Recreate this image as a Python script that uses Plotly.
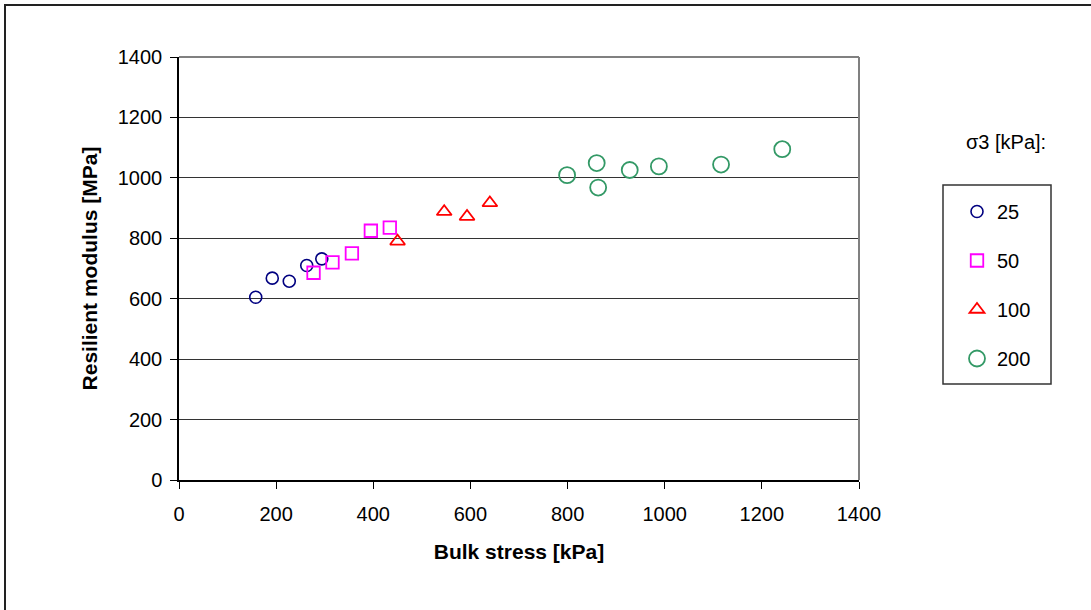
import plotly.graph_objects as go

# Data
bulk_25 = [158, 192, 227, 263, 294]
mr_25 = [605, 668, 658, 710, 732]

bulk_50 = [277, 316, 356, 395, 434]
mr_50 = [686, 720, 750, 825, 835]

bulk_100 = [450, 546, 593, 640]
mr_100 = [790, 888, 872, 917]

bulk_200 = [799, 860, 863, 928, 988, 1116, 1242]
mr_200 = [1009, 1049, 968, 1026, 1038, 1044, 1095]

series_names = ["25", "50", "100", "200"]
x_ticks = [0, 200, 400, 600, 800, 1000, 1200, 1400]
y_ticks = [0, 200, 400, 600, 800, 1000, 1200, 1400]

FONT = "Liberation Sans, Arial, sans-serif"

fig = go.Figure()
specs = [
    (bulk_25, mr_25, series_names[0], "circle-open", "#000080", 12, 1.6),
    (bulk_50, mr_50, series_names[1], "square-open", "#FF00FF", 12.5, 1.8),
    (bulk_100, mr_100, series_names[2], "triangle-up-open", "#FF0000", 13, 1.8),
    (bulk_200, mr_200, series_names[3], "circle-open", "#339966", 16, 1.8),
]
for i, (xs, ys, name, sym, col, sz, lw) in enumerate(specs):
    fig.add_trace(go.Scatter(
        x=xs, y=ys, mode="markers", name=name, legendgroup=f"g{i}",
        marker=dict(symbol=sym, size=sz, color=col, line=dict(color=col, width=lw)),
    ))

L, R, T, B = 179, 859, 57, 480
W, H = 1091, 610
pw, ph = R - L, B - T

def px_x(p):
    return (p - L) / pw

def px_y(p):
    return (B - p) / ph

shapes = [
    # outer chart border (right/bottom fall outside the image)
    dict(type="rect", xref="paper", yref="paper",
         x0=px_x(5), x1=px_x(W + 20), y0=px_y(W), y1=px_y(5),
         line=dict(color="#222222", width=2), fillcolor="rgba(0,0,0,0)", layer="below"),
    # plot area top and right border (grey)
    dict(type="line", xref="paper", yref="paper", x0=0, x1=1, y0=1, y1=1,
         line=dict(color="#808080", width=2)),
    dict(type="line", xref="paper", yref="paper", x0=1, x1=1, y0=0, y1=1,
         line=dict(color="#808080", width=2)),
    # legend box
    dict(type="rect", xref="paper", yref="paper",
         x0=px_x(943), x1=px_x(1051), y0=px_y(384), y1=px_y(185),
         line=dict(color="#333333", width=1.5), fillcolor="rgba(0,0,0,0)"),
]

fig.update_layout(
    width=W, height=H,
    margin=dict(l=L, r=W - R, t=T, b=H - B),
    paper_bgcolor="white", plot_bgcolor="white",
    font=dict(family=FONT, size=20, color="black"),
    showlegend=True,
    legend=dict(
        x=px_x(957), y=px_y(192), xanchor="left", yanchor="top",
        traceorder="grouped", tracegroupgap=20,
        bgcolor="rgba(0,0,0,0)", borderwidth=0,
        font=dict(family=FONT, size=20, color="black"),
    ),
    shapes=shapes,
    annotations=[
        dict(text="σ3 [kPa]:", xref="paper", yref="paper",
             x=px_x(1006), y=px_y(142), xanchor="center", yanchor="middle",
             showarrow=False, font=dict(family=FONT, size=20, color="black")),
    ],
    xaxis=dict(
        range=[0, 1400], tickvals=x_ticks, ticktext=[str(v) for v in x_ticks],
        showgrid=False, zeroline=False,
        showline=True, linecolor="black", linewidth=1.5,
        ticks="outside", ticklen=7, tickcolor="black", tickwidth=1.2,
        ticklabelstandoff=8,
        tickfont=dict(family=FONT, size=20, color="black"),
        title=dict(text="<b>Bulk stress [kPa]</b>", standoff=21,
                   font=dict(family=FONT, size=21, color="black")),
    ),
    yaxis=dict(
        range=[0, 1400], tickvals=y_ticks, ticktext=[str(v) for v in y_ticks],
        showgrid=True, gridcolor="#333333", gridwidth=1,
        zeroline=False,
        showline=True, linecolor="black", linewidth=1.5,
        ticks="outside", ticklen=7, tickcolor="black", tickwidth=1.2,
        ticklabelstandoff=4,
        tickfont=dict(family=FONT, size=20, color="black"),
        title=dict(text="<b>Resilient modulus [MPa]</b>", standoff=14,
                   font=dict(family=FONT, size=21, color="black")),
    ),
)

fig.write_html(
    "out.html",
    config={"displayModeBar": False},
    post_script="document.body.style.margin='0';document.body.style.overflow='hidden';",
)
